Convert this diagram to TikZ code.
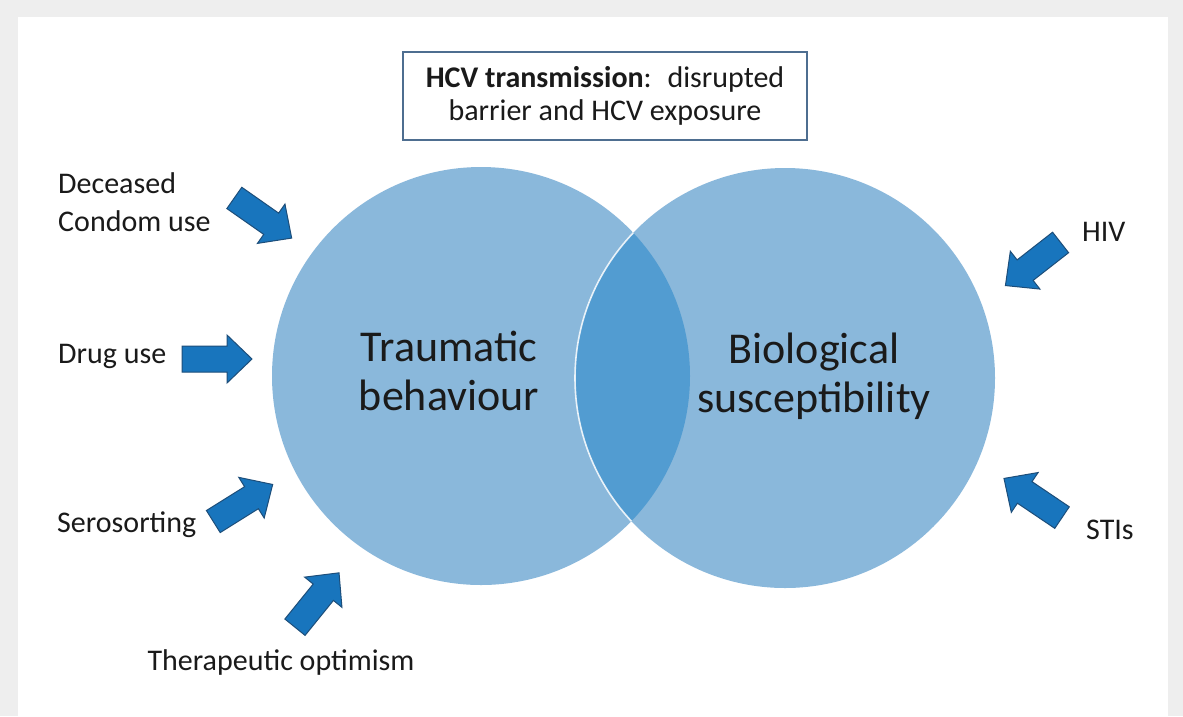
\documentclass[tikz,border=0pt]{standalone}
\usepackage{fontspec}
\setmainfont{Carlito}
\definecolor{framegray}{HTML}{EEEEEE}
\definecolor{circfill}{HTML}{8AB8DB}
\definecolor{lensfill}{HTML}{529CD1}
\definecolor{arrowfill}{HTML}{1875BD}
\definecolor{arrowline}{HTML}{1D4E7A}
\definecolor{boxline}{HTML}{4E6E90}
\definecolor{txt}{HTML}{1A1A1A}
\begin{document}
\begin{tikzpicture}[x=1pt,y=-1pt,
  lbl/.style={font=\fontsize{30}{38}\selectfont, text=txt, inner sep=0pt},
  big/.style={font=\fontsize{44}{49}\selectfont, text=txt, align=center, inner sep=0pt},
  barrowstyle/.style={fill=arrowfill, draw=arrowline, line width=1pt, line join=miter},
  barrow/.pic={\path[barrowstyle] (-35,-13) -- (10,-13) -- (10,-24) -- (35,0) -- (10,24) -- (10,13) -- (-35,13) -- cycle;}]
\useasboundingbox (0,0) rectangle (1183,716);
% frame
\fill[framegray] (0,0) rectangle (1183,716);
\fill[white] (18,17) rectangle (1168,716);
% circles
\coordinate (lc) at (481,376);
\coordinate (rc) at (785,378);
\fill[circfill] (lc) circle[radius=209pt];
\fill[circfill] (rc) circle[radius=210pt];
\begin{scope}
  \clip (lc) circle[radius=209pt];
  \fill[lensfill] (rc) circle[radius=210pt];
  \draw[white, line width=1.6pt, opacity=0.85] (rc) circle[radius=210pt];
\end{scope}
% circle labels
\node[big] (trauma) at (449,371) {Traumatic\\behaviour};
\node[big] (bio) at (814,376) {Biological\\susceptibility};
% title box
\node[draw=boxline, line width=1.6pt, minimum width=404pt, minimum height=88pt, inner sep=0pt,
      font=\fontsize{30}{33}\selectfont, text=txt, align=center] (title) at (605,96)
  {\textbf{HCV transmission}:~ disrupted\\barrier and HCV exposure};
% side labels
\node[lbl, align=left, anchor=north west] (cond) at (58,172) {Deceased\\Condom use};
\node[lbl, anchor=base west] (drug) at (58,363) {Drug use};
\node[lbl, anchor=base west] (sero) at (57,532) {Serosorting};
\node[lbl, anchor=base] (thera) at (281,670) {Therapeutic optimism};
\node[lbl, anchor=base west] (hiv) at (1082,241) {HIV};
\node[lbl, anchor=base west] (sti) at (1086,539) {STIs};
% arrows
\pic[rotate=-35] (a1) at (263,218) {barrow};
\pic[rotate=0] (a2) at (217,359) {barrow};
\pic[rotate=32] (a3) at (243,503) {barrow};
\pic[rotate=51] (a4) at (317,600) {barrow};
\pic[rotate=218] (a5) at (1033,264) {barrow};
\pic[rotate=146] (a6) at (1033,498) {barrow};
\end{tikzpicture}
\end{document}
